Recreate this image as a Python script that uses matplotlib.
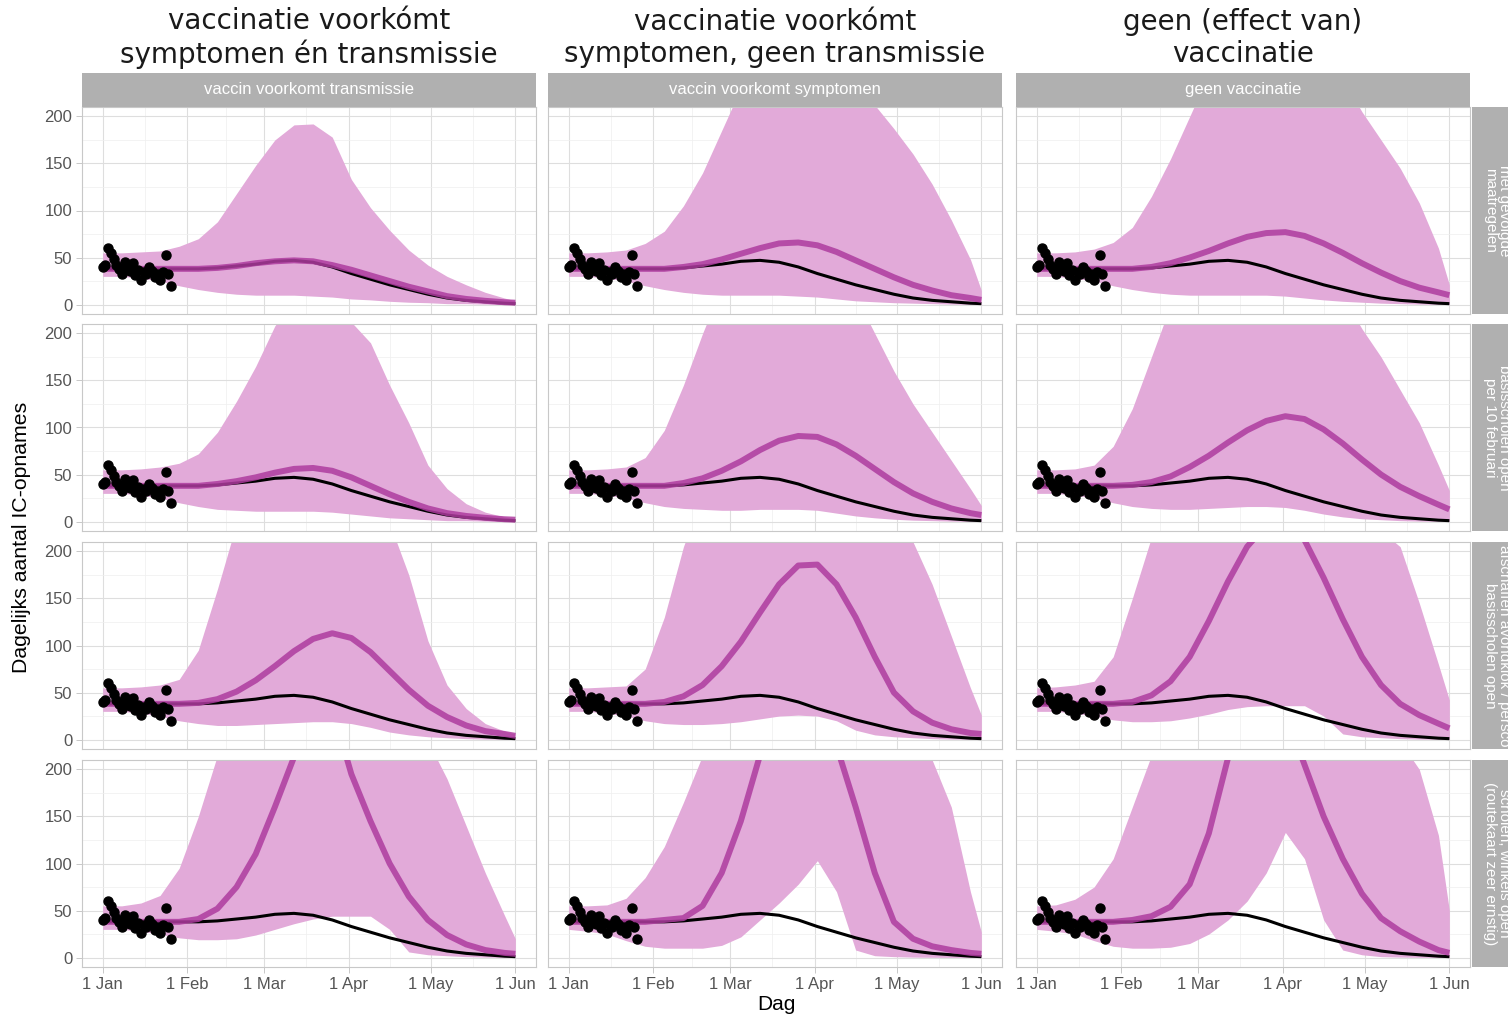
import numpy as np
import matplotlib
matplotlib.use('Agg')
import matplotlib.pyplot as plt

plt.rcParams['font.family'] = ['Liberation Sans', 'DejaVu Sans']

#### DATA ####
col_titles = ['vaccinatie voorkómt\nsymptomen én transmissie',
              'vaccinatie voorkómt\nsymptomen, geen transmissie',
              'geen (effect van)\nvaccinatie']
col_strips = ['vaccin voorkomt transmissie', 'vaccin voorkomt symptomen', 'geen vaccinatie']
row_strips = ['met gevolgde\nmaatregelen',
              'basisscholen open\nper 10 februari',
              'afschaffen avondklok / persco\nbasisscholen open',
              'scholen, winkels open\n(routekaart zeer ernstig)']

tick_days = [0, 31, 59, 90, 120, 151]
tick_labels = ['1 Jan', '1 Feb', '1 Mar', '1 Apr', '1 May', '1 Jun']

# observed IC admissions (days since 1 Jan)
obs_day = list(range(26))
obs_val = [40, 42, 60, 55, 48, 42, 38, 33, 45, 40, 36, 44, 31, 37, 26,
           35, 33, 40, 36, 29, 32, 26, 35, 53, 33, 20]

# model days (days since 1 Jan)
days = [0, 7, 14, 21, 28, 35, 42, 49, 56, 63, 70, 77, 84, 91, 98, 105,
        112, 119, 126, 133, 140, 147, 151]

# black reference line (same in every panel)
base = [38, 38, 38, 38, 38, 38, 39, 41, 43, 46, 47, 45, 40, 33, 27, 21,
        16, 11, 7, 4.5, 3, 1.5, 1]

# median (magenta) per row / column
mid = [
    [[38, 38, 38, 38, 38, 38, 39, 41, 44, 46, 47, 46, 42, 37, 31, 25, 19, 14, 9, 6, 4, 2.5, 2],
     [38, 38, 38, 38, 38, 38, 40, 43, 48, 54, 60, 65, 66, 63, 56, 47, 38, 29, 21, 15, 10, 7, 5],
     [38, 38, 38, 38, 38, 38, 40, 44, 50, 57, 65, 72, 76, 77, 73, 65, 55, 44, 34, 25, 18, 13, 10]],
    [[38, 38, 38, 38, 38, 38, 40, 43, 47, 52, 56, 57, 54, 47, 38, 29, 21, 14, 9, 6, 4, 2.5, 2],
     [38, 38, 38, 38, 38, 38, 41, 46, 54, 64, 76, 86, 91, 90, 82, 70, 56, 42, 30, 21, 14, 9, 7],
     [38, 38, 38, 38, 38, 39, 42, 48, 58, 70, 84, 97, 107, 112, 109, 98, 83, 66, 50, 37, 27, 18, 13]],
    [[38, 38, 38, 38, 38, 39, 43, 51, 63, 78, 94, 107, 113, 108, 93, 73, 53, 36, 24, 15, 9, 6, 4],
     [38, 38, 38, 38, 38, 40, 46, 58, 78, 104, 135, 165, 185, 186, 165, 130, 88, 50, 30, 18, 11, 7, 6],
     [38, 38, 38, 38, 38, 40, 47, 62, 88, 126, 168, 205, 228, 232, 212, 172, 128, 88, 58, 38, 26, 17, 12]],
    [[38, 38, 38, 38, 38, 41, 52, 75, 110, 160, 213, 265, 265, 195, 145, 100, 65, 40, 24, 14, 8, 5, 4],
     [38, 38, 38, 38, 38, 40, 42, 55, 90, 145, 215, 270, 290, 270, 225, 160, 90, 38, 20, 12, 8, 5, 4],
     [38, 38, 38, 38, 38, 40, 44, 54, 78, 132, 212, 280, 300, 260, 205, 150, 105, 68, 42, 28, 17, 8, 5]],
]
# lower bound of band
lo = [
    [[30, 30, 28, 25, 20, 16, 13, 11, 10, 10, 10, 9, 8, 6, 5, 3.5, 2.5, 2, 1, 1, 0.5, 0.3, 0.2],
     [30, 30, 28, 25, 20, 16, 13, 11, 10, 10, 10, 10, 9, 8, 6, 4, 3, 2, 1.5, 1, 0.5, 0.3, 0.2],
     [30, 30, 28, 25, 20, 16, 13, 11, 10, 10, 10, 10, 10, 9, 7, 5, 3.5, 2.5, 1.5, 1, 0.5, 0.3, 0.2]],
    [[30, 30, 28, 25, 20, 16, 13, 12, 11, 11, 11, 11, 10, 8, 6, 4, 3, 2, 1, 1, 0.5, 0.3, 0.2],
     [30, 30, 28, 25, 20, 16, 14, 13, 12, 12, 13, 13, 13, 12, 9, 6, 4, 2.5, 1.5, 1, 0.5, 0.3, 0.2],
     [30, 30, 28, 25, 20, 16, 14, 13, 13, 14, 15, 16, 16, 15, 12, 8, 5, 3, 2, 1, 0.5, 0.3, 0.2]],
    [[30, 30, 28, 25, 20, 17, 15, 15, 16, 17, 18, 19, 19, 17, 13, 8, 5, 3, 2, 1, 0.5, 0.3, 0.2],
     [30, 30, 28, 25, 20, 17, 16, 16, 17, 19, 22, 25, 26, 25, 20, 10, 5, 3, 2, 1, 0.5, 0.3, 0.2],
     [30, 30, 28, 25, 21, 19, 19, 20, 23, 27, 32, 35, 36, 36, 36, 25, 6, 3, 2, 1, 0.5, 0.3, 0.2]],
    [[30, 30, 28, 25, 21, 19, 19, 20, 24, 30, 36, 41, 44, 44, 44, 30, 6, 3, 2, 1, 0.5, 0.3, 0.2],
     [30, 28, 25, 18, 12, 10, 10, 10, 13, 22, 40, 58, 78, 103, 70, 8, 2, 1, 0.5, 0.3, 0.2, 0.1, 0.1],
     [30, 28, 25, 18, 12, 10, 10, 11, 15, 25, 40, 60, 90, 133, 105, 40, 8, 3, 1, 0.5, 0.3, 0.2, 0.1]],
]
# upper bound of band
hi = [
    [[55, 55, 56, 57, 62, 70, 88, 118, 148, 175, 191, 192, 178, 133, 103, 79, 58, 42, 30, 21, 13, 7, 4],
     [55, 55, 56, 58, 65, 78, 105, 140, 185, 230, 270, 295, 305, 300, 280, 250, 212, 187, 160, 128, 90, 48, 15],
     [55, 55, 56, 59, 66, 82, 115, 155, 200, 245, 285, 310, 320, 320, 305, 275, 240, 205, 175, 145, 108, 60, 21]],
    [[55, 55, 56, 58, 62, 72, 95, 128, 165, 208, 235, 245, 235, 212, 190, 145, 105, 60, 35, 19, 10, 5, 3],
     [55, 55, 56, 58, 68, 97, 145, 200, 250, 290, 320, 335, 330, 310, 275, 240, 200, 160, 125, 95, 65, 35, 17],
     [55, 55, 56, 60, 80, 120, 175, 230, 280, 320, 350, 365, 365, 350, 320, 280, 240, 205, 175, 140, 105, 60, 33]],
    [[55, 55, 56, 58, 64, 95, 160, 230, 280, 310, 330, 335, 320, 290, 255, 230, 175, 105, 58, 33, 17, 9, 6],
     [55, 55, 56, 57, 75, 130, 205, 260, 310, 350, 380, 400, 400, 380, 340, 290, 260, 235, 210, 165, 110, 55, 26],
     [55, 56, 58, 62, 88, 150, 215, 280, 340, 380, 420, 440, 440, 420, 380, 330, 280, 245, 222, 205, 145, 80, 42]],
    [[55, 55, 58, 66, 95, 150, 215, 270, 320, 370, 410, 430, 430, 400, 350, 300, 260, 230, 190, 140, 90, 45, 20],
     [55, 55, 56, 63, 85, 118, 165, 215, 280, 350, 420, 460, 460, 440, 400, 350, 300, 260, 230, 210, 160, 70, 27],
     [55, 56, 62, 75, 105, 160, 215, 275, 330, 390, 440, 470, 480, 470, 440, 400, 350, 300, 260, 230, 200, 130, 50]],
]

#### STYLE ####
W, H = 1508, 1018
band_col = '#E2AAD9'
line_col = '#AE3C9F'
strip_col = '#B0B0B0'
col_left = [82, 548, 1016]
ax_w = 454
row_top = [107, 324, 542, 760]
ax_h = 207

fig = plt.figure(figsize=(W / 100, H / 100), dpi=100)


def rect(x, y, w, h):
    return [x / W, 1 - (y + h) / H, w / W, h / H]


for r in range(4):
    for c in range(3):
        ax = fig.add_axes(rect(col_left[c], row_top[r], ax_w, ax_h))
        ax.fill_between(days, lo[r][c], hi[r][c], color=band_col, lw=0, zorder=2)
        ax.plot(days, base, color='black', lw=2.2, zorder=3, solid_capstyle='butt')
        ax.plot(days, mid[r][c], color=line_col, lw=4.3, alpha=0.85, zorder=4,
                solid_capstyle='butt')
        ax.plot(obs_day, obs_val, 'o', color='black', ms=6.5, zorder=5)

        ax.set_xlim(-7.55, 158.55)
        ax.set_ylim(-10, 210)
        ax.set_xticks(tick_days)
        ax.set_xticks([15.5, 45, 74.5, 105, 135.5], minor=True)
        ax.set_yticks([0, 50, 100, 150, 200])
        ax.set_yticks([25, 75, 125, 175], minor=True)
        ax.grid(which='major', color='#DEDEDE', lw=0.8, zorder=0)
        ax.grid(which='minor', color='#EFEFEF', lw=0.5, zorder=0)
        ax.set_axisbelow(True)
        for s in ax.spines.values():
            s.set_color('#C8C8C8')
            s.set_linewidth(0.8)
        ax.tick_params(which='minor', length=0)
        ax.tick_params(which='major', color='#C8C8C8', length=4, width=0.7,
                       labelcolor='#555555', labelsize=12, pad=3)
        if r == 3:
            ax.set_xticklabels(tick_labels)
        else:
            ax.set_xticklabels([])
            ax.tick_params(axis='x', length=0)
        if c == 0:
            ax.set_yticklabels(['0', '50', '100', '150', '200'])
        else:
            ax.set_yticklabels([])
            ax.tick_params(axis='y', length=0)

# top strips and column titles
for c in range(3):
    sa = fig.add_axes(rect(col_left[c], 73, ax_w, 34))
    sa.set_facecolor(strip_col)
    sa.set_xticks([])
    sa.set_yticks([])
    for s in sa.spines.values():
        s.set_visible(False)
    sa.text(0.5, 0.5, col_strips[c], color='white', fontsize=12,
            ha='center', va='center', transform=sa.transAxes)
    fig.text((col_left[c] + ax_w / 2) / W, 1 - 38 / H, col_titles[c],
             ha='center', va='center', fontsize=20, color='#1A1A1A',
             family='DejaVu Sans', linespacing=1.15)

# right strips (cut off by the figure edge, as in the original)
for r in range(4):
    sa = fig.add_axes(rect(1472, row_top[r], 60, ax_h))
    sa.set_facecolor(strip_col)
    sa.set_xticks([])
    sa.set_yticks([])
    for s in sa.spines.values():
        s.set_visible(False)
    sa.text(0.42, 0.5, row_strips[r], color='white', fontsize=11, rotation=-90,
            ha='center', va='center', transform=sa.transAxes, linespacing=1.05)

fig.text(22 / W, 1 - 537 / H, 'Dagelijks aantal IC-opnames', rotation=90,
         ha='center', va='center', fontsize=15.3, color='black')
fig.text(776 / W, 1 - 1005 / H, 'Dag', ha='center', va='center',
         fontsize=15, color='black')

fig.savefig('out.png', dpi=100, facecolor='white')
